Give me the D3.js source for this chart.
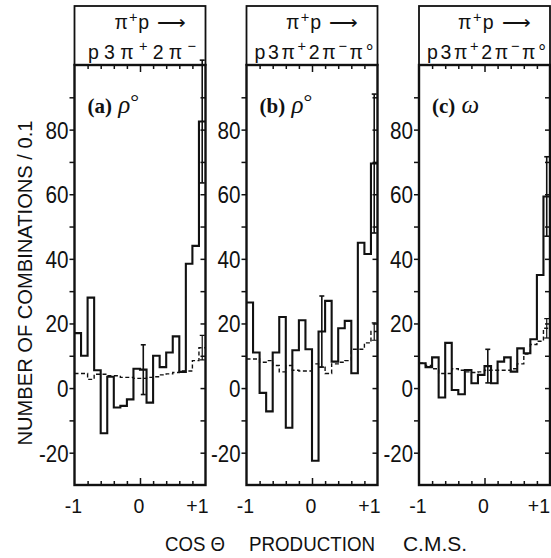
<!DOCTYPE html>
<html>
<head>
<meta charset="utf-8">
<script src="https://cdn.jsdelivr.net/npm/d3@7"></script>
<style>
  html, body { margin: 0; padding: 0; background: #fff; }
  svg { display: block; }
  text { font-family: 'Liberation Sans', Arial, sans-serif; fill: #111; }
  .serif { font-family: 'Liberation Serif', 'DejaVu Serif', serif; }
</style>
</head>
<body>
<svg id="chart" width="551" height="558"></svg>
<script>
// Lower edges of the cos θ bins (width 0.1)
const binLow = [-1.0, -0.9, -0.8, -0.7, -0.6, -0.5, -0.4, -0.3, -0.2, -0.1,
                 0.0,  0.1,  0.2,  0.3,  0.4,  0.5,  0.6,  0.7,  0.8,  0.9];
const binWidth = 0.1;

// (a) ρ° in p3π⁺2π⁻ : signal counts and background estimate per bin
const countsA = [17, 10, 28, 5.5, -14, 3.5, -6, -5.5, -3.5, 6,
                 5.7, -4.5, 10, 6.5, 11, 16, 5, 38.5, 44, 82.5];
const bgA     = [4.5, 4.5, 2.7, 4.3, 4.3, 3.8, 3.8, 3.3, 3.3, 3.0,
                 3.0, 3.3, 3.5, 4.1, 4.4, 4.8, 5.3, 5.3, 8.5, 12.5];
// [bin index, half-length] of the statistical error bars
const errA   = [[10, 7.7], [19, 19]];
const bgErrA = [[19, 3.8]];

// (b) ρ° in p3π⁺2π⁻π°
const countsB = [26.5, 11, -1.5, -7.2, 11, 22, -12.3, 11.7, 21, 12,
                 -22.5, 17.5, 27, 8.2, 18.5, 20.8, 4.6, 45, 41.5, 69.5];
const bgB     = [9, 9, 8, 8.5, 7, 5, 7, 5.5, 5.3, 5.3,
                 7.5, 6.5, 4.5, 7.5, 8, 8.5, 12, 12, 14, 17.5];
const errB   = [[11, 11], [19, 21.5]];
const bgErrB = [[19, 2.7]];

// (c) ω in p3π⁺2π⁻π°
const countsC = [7.7, 6.5, 9.5, -2.9, 14, -0.6, -1.9, 5.6, 1.5, 4.1,
                 6.8, 1.5, 8.2, 9.5, 5.1, 12.3, 10.8, 15.1, 35, 59.3];
const bgC     = [7.7, 7, 6, 4.5, 4.5, 6, 5.5, 5, 4.8, 5,
                 5.5, 5.5, 5.5, 5.5, 6, 7.5, 10.5, 13.5, 14.5, 18.5];
const errC   = [[10, 5.2], [19, 12.3]];
const bgErrC = [[19, 3]];

// Axis ticks and labels
const yMajorTicks = [-20, 0, 20, 40, 60, 80];
const yAllTicks   = [-20, -10, 0, 10, 20, 30, 40, 50, 60, 70, 80, 90];
const xTicks      = [-0.8, -0.6, -0.4, -0.2, 0, 0.2, 0.4, 0.6, 0.8];
const xLabels     = [[-1, "-1"], [0, "0"], [1, "+1"]];

// Panel captions
const panelLetters = ["(a)", "(b)", "(c)"];
const resonance    = ["ρ", "ρ", "ω"];
const resonanceSup = ["°", "°", ""];
// Reaction written as [text, superscript?] pieces
const reactionTop = [["π", false], ["+", true], ["p ⟶", false]];
const finalStates = [
  [["p3π", false], ["+", true], ["2π", false], ["−", true]],
  [["p3π", false], ["+", true], ["2π", false], ["−", true], ["π°", false]],
  [["p3π", false], ["+", true], ["2π", false], ["−", true], ["π°", false]]
];

const yTitle = "NUMBER OF COMBINATIONS / 0.1";
const xTitleParts = ["COS Θ", "PRODUCTION", "C.M.S."];

const panels = [
  { counts: countsA, bg: bgA, err: errA, bgErr: bgErrA },
  { counts: countsB, bg: bgB, err: errB, bgErr: bgErrB },
  { counts: countsC, bg: bgC, err: errC, bgErr: bgErrC }
];

// ---- layout ----
const svg = d3.select("#chart");
const headerTop = 6, plotTop = 65, plotBottom = 485;
const panelX = [74.5, 246.5, 419], panelW = 131;
const ink = "#111";

const y = d3.scaleLinear().domain([-30, 100]).range([plotBottom, plotTop]);

function stepPoints(x, values) {
  const pts = [];
  binLow.forEach((lo, i) => {
    pts.push([x(lo), y(values[i])]);
    pts.push([x(lo + binWidth), y(values[i])]);
  });
  return pts;
}

function drawErrors(g, x, values, errs, width) {
  errs.forEach(([i, e]) => {
    const cx = x(binLow[i] + binWidth / 2);
    const half = (x(binWidth) - x(0)) * 0.38;
    const lo = y(values[i] - e), hi = y(values[i] + e);
    g.append("line").attr("x1", cx).attr("x2", cx).attr("y1", lo).attr("y2", hi)
      .attr("stroke", ink).attr("stroke-width", width);
    [lo, hi].forEach(yy => g.append("line")
      .attr("x1", cx - half).attr("x2", cx + half).attr("y1", yy).attr("y2", yy)
      .attr("stroke", ink).attr("stroke-width", width));
  });
}

function writePieces(t, pieces, size) {
  let raised = false;
  pieces.forEach(([txt, sup]) => {
    const s = t.append("tspan").text(txt);
    if (sup && !raised) { s.attr("dy", -size * 0.38).attr("font-size", size * 0.75); raised = true; }
    else if (!sup && raised) { s.attr("dy", size * 0.38); raised = false; }
    else if (sup) { s.attr("font-size", size * 0.75); }
  });
}

// hyphen-minus tick labels, condensed to the printed width
const tickLabel = d => yMajorTicks.includes(d) ? String(d) : "";
const tickWidth = s => s.replace("-", "").length * 11.5 + (s.startsWith("-") ? 6.5 : 0);

const headerWidths = [[71, 108], [72, 119], [73, 119]];

panels.forEach((p, k) => {
  const left = panelX[k], right = left + panelW;
  const x = d3.scaleLinear().domain([-1, 1]).range([left, right]);
  const g = svg.append("g");

  // clip marks to the plotting area
  const clipId = "clip" + k;
  svg.append("clipPath").attr("id", clipId).append("rect")
    .attr("x", left).attr("y", plotTop).attr("width", panelW).attr("height", plotBottom - plotTop);
  const marks = g.append("g").attr("clip-path", `url(#${clipId})`);

  // background estimate (dashed)
  marks.append("path").attr("d", d3.line()(stepPoints(x, p.bg)))
    .attr("fill", "none").attr("stroke", ink).attr("stroke-width", 1.4)
    .attr("stroke-dasharray", "4 2.5");
  drawErrors(marks, x, p.bg, p.bgErr, 1.2);

  // signal histogram
  marks.append("path").attr("d", d3.line()(stepPoints(x, p.counts)))
    .attr("fill", "none").attr("stroke", ink).attr("stroke-width", 2.1)
    .attr("stroke-linejoin", "miter");
  drawErrors(g, x, p.counts, p.err, 1.6);

  // left axis: outward ticks, labels on the 20s
  const yl = g.append("g").attr("transform", `translate(${left},0)`)
    .call(d3.axisLeft(y).tickValues(yAllTicks).tickSize(5).tickPadding(3).tickFormat(tickLabel));
  // right axis: inward ticks
  const yr = g.append("g").attr("transform", `translate(${right},0)`)
    .call(d3.axisRight(y).tickValues(yAllTicks).tickSize(-5).tickFormat(""));
  // top (under header) and bottom: inward ticks every 0.2, longer at 0
  const xt = g.append("g").attr("transform", `translate(0,${plotTop})`)
    .call(d3.axisBottom(x).tickValues(xTicks).tickSize(4).tickFormat(""));
  const xb = g.append("g").attr("transform", `translate(0,${plotBottom})`)
    .call(d3.axisTop(x).tickValues(xTicks).tickSize(4).tickFormat(""));
  xt.selectAll(".tick line").filter(d => d === 0).attr("y2", 7);
  xb.selectAll(".tick line").filter(d => d === 0).attr("y2", -7);

  [yl, yr, xt, xb].forEach(a => {
    a.select(".domain").remove();
    a.selectAll(".tick line").attr("stroke", ink).attr("stroke-width", 1.5);
  });
  yl.selectAll(".tick text")
    .attr("font-size", 23.5).attr("fill", ink)
    .attr("font-family", "'Liberation Sans', Arial, sans-serif")
    .attr("dy", "0.36em").attr("x", -6)
    .each(function (d) {
      const s = tickLabel(d);
      if (s) d3.select(this).attr("textLength", tickWidth(s)).attr("lengthAdjust", "spacingAndGlyphs");
    });

  // frames: header box and plot box
  g.append("rect").attr("x", left).attr("y", headerTop).attr("width", panelW)
    .attr("height", plotTop - headerTop).attr("fill", "none").attr("stroke", ink).attr("stroke-width", 1.8);
  g.append("rect").attr("x", left).attr("y", plotTop).attr("width", panelW)
    .attr("height", plotBottom - plotTop).attr("fill", "none").attr("stroke", ink).attr("stroke-width", 2.4);

  // reaction in the header
  const cx = (left + right) / 2;
  const t1 = g.append("text").attr("x", cx + 10).attr("y", 29)
    .attr("text-anchor", "middle").attr("font-size", 19.5)
    .attr("textLength", headerWidths[k][0]).attr("lengthAdjust", "spacing");
  writePieces(t1, reactionTop, 19.5);
  const t2 = g.append("text").attr("x", cx + 2).attr("y", 58.5)
    .attr("text-anchor", "middle").attr("font-size", 19.5)
    .attr("textLength", headerWidths[k][1]).attr("lengthAdjust", "spacing");
  writePieces(t2, finalStates[k], 19.5);

  // panel caption
  const cap = g.append("text").attr("x", left + 13).attr("y", 113).attr("class", "serif");
  cap.append("tspan").text(panelLetters[k]).attr("font-weight", "bold").attr("font-size", 21);
  cap.append("tspan").text(" " + resonance[k]).attr("font-style", "italic").attr("font-size", 25);
  if (resonanceSup[k]) cap.append("tspan").text(resonanceSup[k]).attr("font-size", 22).attr("dy", -4);

  // cos θ labels
  xLabels.forEach(([v, s]) => {
    const endX = Math.min(x(v) + 3, 550);
    g.append("text").attr("x", v === 1 ? endX : x(v) - 1).attr("y", 513)
      .attr("text-anchor", v === 1 ? "end" : "middle").attr("font-size", 19.5).text(s);
  });
});

// axis titles
svg.append("text")
  .attr("transform", "translate(32,283) rotate(-90)")
  .attr("text-anchor", "middle").attr("font-size", 19.5)
  .attr("textLength", 325).attr("lengthAdjust", "spacingAndGlyphs")
  .text(yTitle);

const xTitleX = [165, 249, 403], xTitleW = [60, 126, 64];
xTitleParts.forEach((s, i) => {
  svg.append("text").attr("x", xTitleX[i]).attr("y", 551).attr("font-size", 21)
    .attr("textLength", xTitleW[i]).attr("lengthAdjust", "spacingAndGlyphs").text(s);
});
</script>
</body>
</html>
